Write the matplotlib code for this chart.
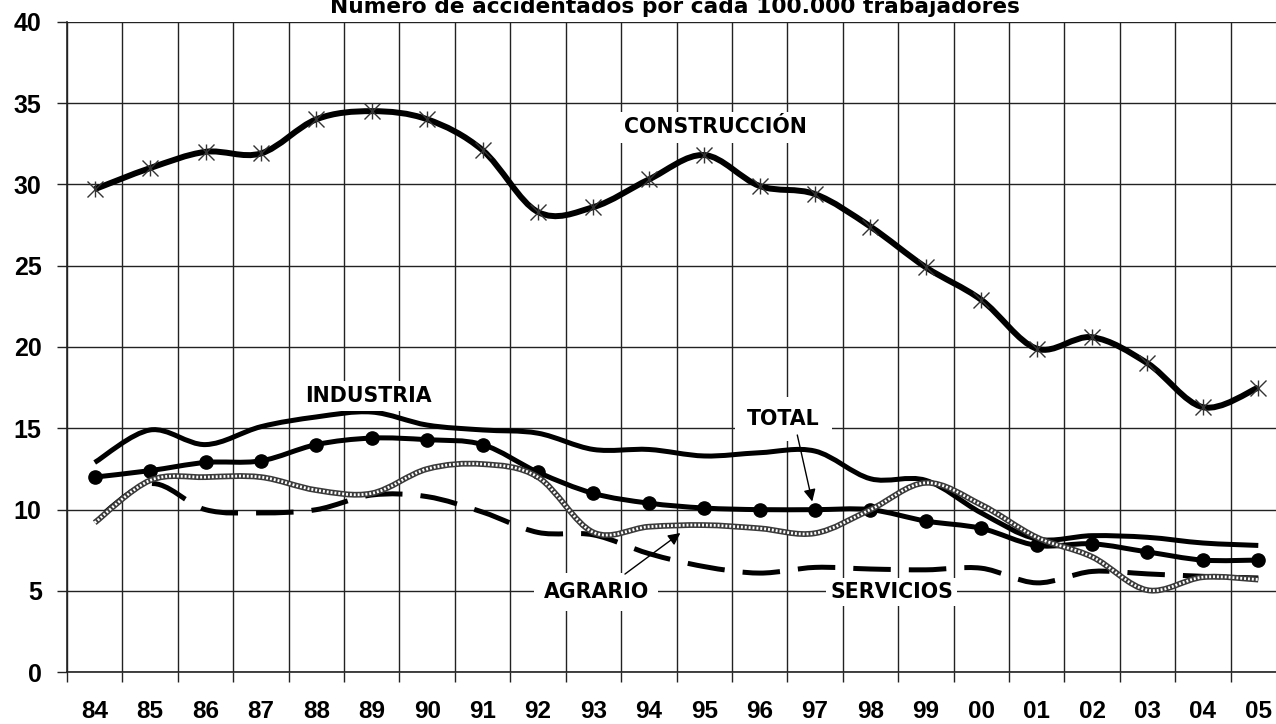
import matplotlib
matplotlib.use("Agg")
import matplotlib.pyplot as plt
import numpy as np
from matplotlib.path import Path
from matplotlib.patches import PathPatch

plt.rcParams["lines.scale_dashes"] = False

YEARS = ["84", "85", "86", "87", "88", "89", "90", "91", "92", "93", "94",
         "95", "96", "97", "98", "99", "00", "01", "02", "03", "04", "05"]
CONSTRUCCION = [29.7, 31.0, 32.0, 31.9, 34.0, 34.5, 34.0, 32.1, 28.3, 28.6, 30.3,
                31.8, 29.9, 29.4, 27.4, 24.9, 22.9, 19.9, 20.6, 19.0, 16.3, 17.5]
INDUSTRIA = [12.9, 14.9, 14.0, 15.1, 15.7, 16.0, 15.2, 14.9, 14.7, 13.7, 13.7,
             13.3, 13.5, 13.6, 11.9, 11.8, 9.8, 8.2, 8.4, 8.3, 7.95, 7.8]
TOTAL = [12.0, 12.4, 12.9, 13.0, 14.0, 14.4, 14.3, 14.0, 12.3, 11.0, 10.4,
         10.1, 10.0, 10.0, 10.0, 9.3, 8.85, 7.8, 7.9, 7.4, 6.9, 6.9]
AGRARIO = [9.2, 11.8, 12.0, 12.0, 11.2, 11.0, 12.5, 12.8, 12.0, 8.6, 8.95,
           9.05, 8.85, 8.55, 10.0, 11.65, 10.3, 8.3, 7.1, 5.05, 5.85, 5.7]
SERVICIOS = [9.3, 11.6, 10.0, 9.8, 10.0, 10.9, 10.8, 9.85, 8.6, 8.45, 7.3,
             6.5, 6.1, 6.45, 6.35, 6.3, 6.4, 5.5, 6.2, 6.05, 5.9, 5.8]
Y_TICKS = [0, 5, 10, 15, 20, 25, 30, 35, 40]
TITLE = "Número de accidentados por cada 100.000 trabajadores"

LABEL_FONT = {"family": "DejaVu Sans", "weight": "bold", "size": 14.8}
TITLE_FONT = {"family": "DejaVu Sans", "weight": "bold", "size": 15.7}
TICK_FONT = {"family": "Liberation Sans", "weight": "bold", "size": 18}
XTICK_FONT = {"family": "Liberation Sans", "weight": "bold", "size": 17.5}


def smooth_path(x, y):
    """Excel-style smoothed line as cubic Bezier segments."""
    pts = np.column_stack([x, y]).astype(float)
    n = len(pts)
    verts = [pts[0]]
    codes = [Path.MOVETO]
    for i in range(n - 1):
        p0 = pts[max(i - 1, 0)]
        p1 = pts[i]
        p2 = pts[i + 1]
        p3 = pts[min(i + 2, n - 1)]
        verts += [p1 + (p2 - p0) / 6.0, p2 - (p3 - p1) / 6.0, p2]
        codes += [Path.CURVE4] * 3
    return Path(verts, codes)


def draw_curve(ax, y, **kw):
    x = np.arange(len(y))
    patch = PathPatch(smooth_path(x, y), fill=False, capstyle="butt",
                      joinstyle="round", **kw)
    ax.add_patch(patch)
    return patch


fig = plt.figure(figsize=(12.76, 7.24), dpi=100)
ax = fig.add_axes([67 / 1276, 51.7 / 724, 1219 / 1276, 650.6 / 724])
ax.set_xlim(-0.5, len(YEARS) - 0.5)
ax.set_ylim(0, 40)

# grid: boundaries between years, labels centred in each cell
ax.set_xticks(np.arange(-0.5, len(YEARS), 1.0))
ax.set_xticklabels([])
ax.set_xticks(np.arange(len(YEARS)), minor=True)
ax.set_xticklabels(YEARS, minor=True, fontdict=XTICK_FONT)
ax.set_yticks(Y_TICKS)
ax.set_yticklabels([str(v) for v in Y_TICKS], fontdict=TICK_FONT)
ax.tick_params(axis="both", which="major", direction="out", length=7.2,
               width=1.0, color="#222222", pad=11)
ax.tick_params(axis="x", which="minor", length=0, pad=20)
ax.grid(True, which="major", color="#222222", lw=1.0)
ax.set_axisbelow(True)
for side in ("top", "right"):
    ax.spines[side].set_visible(False)
for side in ("left", "bottom"):
    ax.spines[side].set_color("#222222")
    ax.spines[side].set_linewidth(1.2)

xs = np.arange(len(YEARS))

# CONSTRUCCIÓN
draw_curve(ax, CONSTRUCCION, edgecolor="black", lw=4.3, zorder=3)
ax.plot(xs, CONSTRUCCION, ls="none", marker="x", ms=12, mew=1.0,
        mec="#333333", zorder=4)
ax.plot(xs, CONSTRUCCION, ls="none", marker="|", ms=12, mew=1.0,
        mec="#333333", zorder=4)

# INDUSTRIA
draw_curve(ax, INDUSTRIA, edgecolor="black", lw=3.6, zorder=3)

# TOTAL
draw_curve(ax, TOTAL, edgecolor="black", lw=3.6, zorder=3)
ax.plot(xs, TOTAL, ls="none", marker="o", ms=9.5, color="black", zorder=4)

# SERVICIOS (dashed)
draw_curve(ax, SERVICIOS, edgecolor="black", lw=3.6,
           linestyle=(30, (27, 13)), zorder=3)

# AGRARIO (grey patterned line)
draw_curve(ax, AGRARIO, edgecolor="#3a3a3a", lw=4.2, zorder=5)
draw_curve(ax, AGRARIO, edgecolor="white", lw=2.0,
           linestyle=(0, (1.4, 1.4)), zorder=6)

# series labels
box = dict(boxstyle="square,pad=0.25", fc="white", ec="none")
ax.text(11.2, 33.5, "CONSTRUCCIÓN", ha="center", va="center", bbox=box,
        zorder=8, **LABEL_FONT)
ax.text(4.94, 17.0, "INDUSTRIA", ha="center", va="center", bbox=box,
        zorder=8, **LABEL_FONT)
ax.text(12.43, 15.57, "TOTAL", ha="center", va="center",
        bbox=dict(boxstyle="square,pad=0.6", fc="white", ec="none"),
        zorder=8, **LABEL_FONT)
ax.text(9.05, 4.93, "AGRARIO", ha="center", va="center",
        bbox=dict(boxstyle="square,pad=0.45", fc="white", ec="none"),
        zorder=8, **LABEL_FONT)
ax.text(14.38, 4.93, "SERVICIOS", ha="center", va="center",
        bbox=dict(boxstyle="square,pad=0.2", fc="white", ec="none"),
        zorder=8, **LABEL_FONT)

arrow = dict(arrowstyle="-|>", color="black", lw=1.0, mutation_scale=18,
             shrinkA=0, shrinkB=0)
ax.annotate("", xy=(12.95, 10.5), xytext=(12.68, 14.59), arrowprops=arrow,
            zorder=9)
ax.annotate("", xy=(10.57, 8.56), xytext=(9.57, 6.04), arrowprops=arrow,
            zorder=9)

# the title sits partly above the top edge, as in the original
fig.text(675 / 1276, 1 - 13 / 724, TITLE, ha="center", va="baseline",
         **TITLE_FONT)

fig.savefig("out.png", dpi=100)
